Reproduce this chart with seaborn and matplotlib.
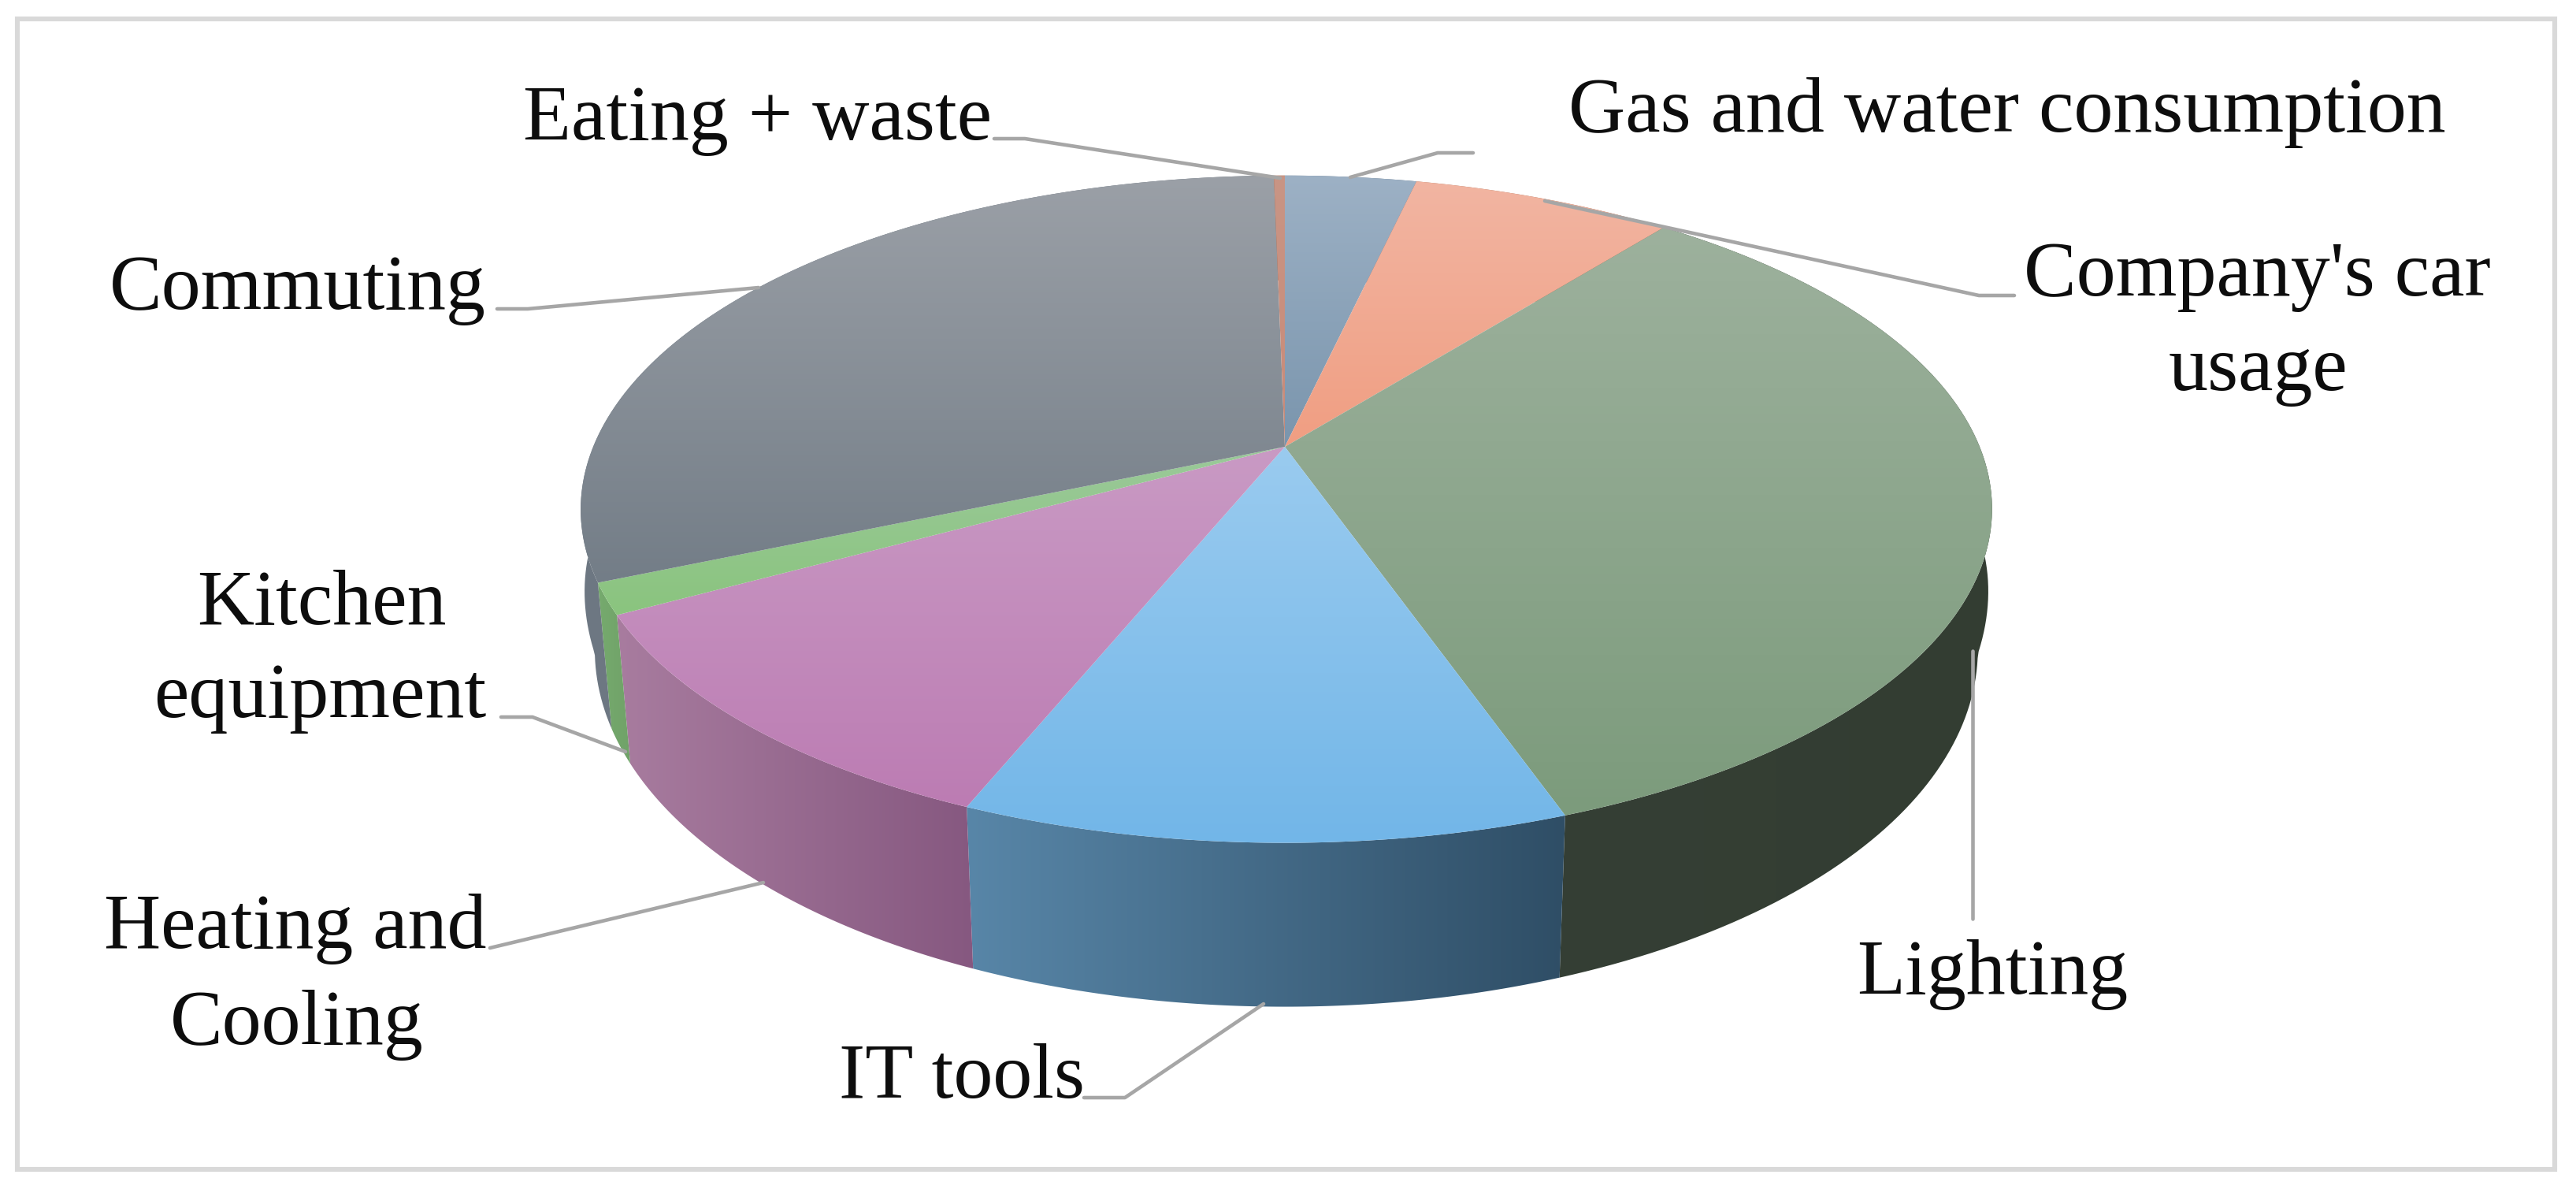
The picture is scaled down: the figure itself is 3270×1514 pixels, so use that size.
import numpy as np
import matplotlib
matplotlib.use("Agg")
import matplotlib.pyplot as plt
from matplotlib.patches import Polygon, Rectangle
import seaborn as sns

# ---- data (percent shares, clockwise from 12 o'clock) ----
categories = ["Gas and water consumption", "Company's car usage", "Lighting", "IT tools",
              "Heating and Cooling", "Kitchen equipment", "Commuting", "Eating + waste"]
shares = [3.6, 7.15, 33.85, 11.6, 10.9, 1.5, 31.1, 0.3]

# ---- style ----
top_light = ["#9DB1C5", "#F2B5A2", "#9DB19D", "#9ACBEF", "#C99AC4", "#9BC99A", "#9BA0A7", "#C99585"]
top_dark  = ["#7A95AD", "#F09E82", "#7C9B7C", "#72B6E8", "#BC7CB3", "#8AC47E", "#737D87", "#C88A78"]
side_light = ["#6F8296", "#B07A60", "#353F35", "#5886A8", "#A87C9F", "#76AA6E", "#6E7883", "#A06A50"]
side_dark  = ["#5F7286", "#A06A50", "#333D32", "#2F4E66", "#865880", "#70A268", "#66707A", "#905A40"]

TEXT_SIZE = 72
LEADER = "#A6A6A6"

sns.set_theme(style="white")
plt.rcParams["font.family"] = ["Liberation Serif", "DejaVu Serif"]

W, H = 3270, 1514
fig = plt.figure(figsize=(W / 100, H / 100), dpi=100)
ax = fig.add_axes([0, 0, 1, 1])
ax.set_xlim(0, W)
ax.set_ylim(H, 0)
ax.axis("off")

# ---- perspective projection of the unit disc ----
X0, Y0 = 1631, 567
C = 0.187
A = 880
B = 408.6


def top_face(theta):
    u, v = np.sin(theta), np.cos(theta)
    d = 1 + C * v
    return X0 + 2 * (1 - v ** 2) + A * u / d, Y0 - B * v / d


def bottom_face(theta):
    x, y = top_face(theta)
    v = np.cos(theta)
    s = 0.98 + 0.16 * np.clip(v + 0.2, 0, 0.5)
    return X0 + s * (x - X0), y + 170.5 - 37.5 * v


def gradient_fill(poly, c1, c2, vertical=True):
    xs, ys = poly[:, 0], poly[:, 1]
    patch = Polygon(poly, closed=True, facecolor="none", edgecolor="none", transform=ax.transData)
    ax.add_patch(patch)
    cmap = sns.blend_palette([c1, c2], n_colors=256, as_cmap=True)
    grad = np.linspace(0, 1, 256)
    grad = grad[:, None] if vertical else grad[None, :]
    im = ax.imshow(grad, cmap=cmap, vmin=0, vmax=1, aspect="auto", interpolation="bilinear",
                   extent=(xs.min() - 1, xs.max() + 1, ys.max() + 1, ys.min() - 1),
                   zorder=patch.get_zorder())
    im.set_clip_path(patch)
    return im


edges = np.radians(np.concatenate([[0], np.cumsum(shares)]) / np.sum(shares) * 360)

# sides first, then top faces
for i in range(len(shares)):
    t = np.linspace(edges[i], edges[i + 1], 120)
    tx, ty = top_face(t)
    bx, by = bottom_face(t)
    poly = np.column_stack([np.r_[tx, bx[::-1]], np.r_[ty, by[::-1]]])
    gradient_fill(poly, side_light[i], side_dark[i], vertical=False)

for i in range(len(shares)):
    t = np.linspace(edges[i], edges[i + 1], 120)
    tx, ty = top_face(t)
    poly = np.column_stack([np.r_[X0, tx], np.r_[Y0, ty]])
    gradient_fill(poly, top_light[i], top_dark[i], vertical=True)

ax.set_xlim(0, W)
ax.set_ylim(H, 0)

# ---- frame ----
ax.add_patch(Rectangle((22, 24), 3221, 1460, facecolor="none", edgecolor="#D9D9D9", linewidth=4.4, zorder=1))

# ---- leaders (pixel layout) ----
leaders = [
    [(1262, 176), (1301, 176), (1625, 226)],
    [(1870, 194), (1825, 194), (1714, 225)],
    [(2557, 375), (2512, 375), (1961, 255)],
    [(631, 392), (670, 392), (963, 365)],
    [(636, 910), (676, 910), (794, 954)],
    [(622, 1203), (969, 1120)],
    [(1376, 1393), (1428, 1393), (1604, 1274)],
    [(2504, 826), (2504, 1166)],
]
for pts in leaders:
    ax.plot(*zip(*pts), color=LEADER, lw=3.3, zorder=6, solid_joinstyle="round")

# ---- labels: text, centre x, baseline y ----
labels = [
    ("Eating + waste", 962, 177),
    ("Gas and water consumption", 2548, 167),
    ("Company's car", 2865, 375),
    ("usage", 2866, 495),
    ("Commuting", 378, 392),
    ("Kitchen", 408, 792),
    ("equipment", 406, 910),
    ("Heating and", 375, 1203),
    ("Cooling", 377, 1325),
    ("IT tools", 1221, 1393),
    ("Lighting", 2529, 1261),
]
for s, x, y in labels:
    ax.text(x, y, s, ha="center", va="baseline", fontsize=TEXT_SIZE, color="#0D0D0D", zorder=7)

fig.savefig("out.png", dpi=100, facecolor="white")
